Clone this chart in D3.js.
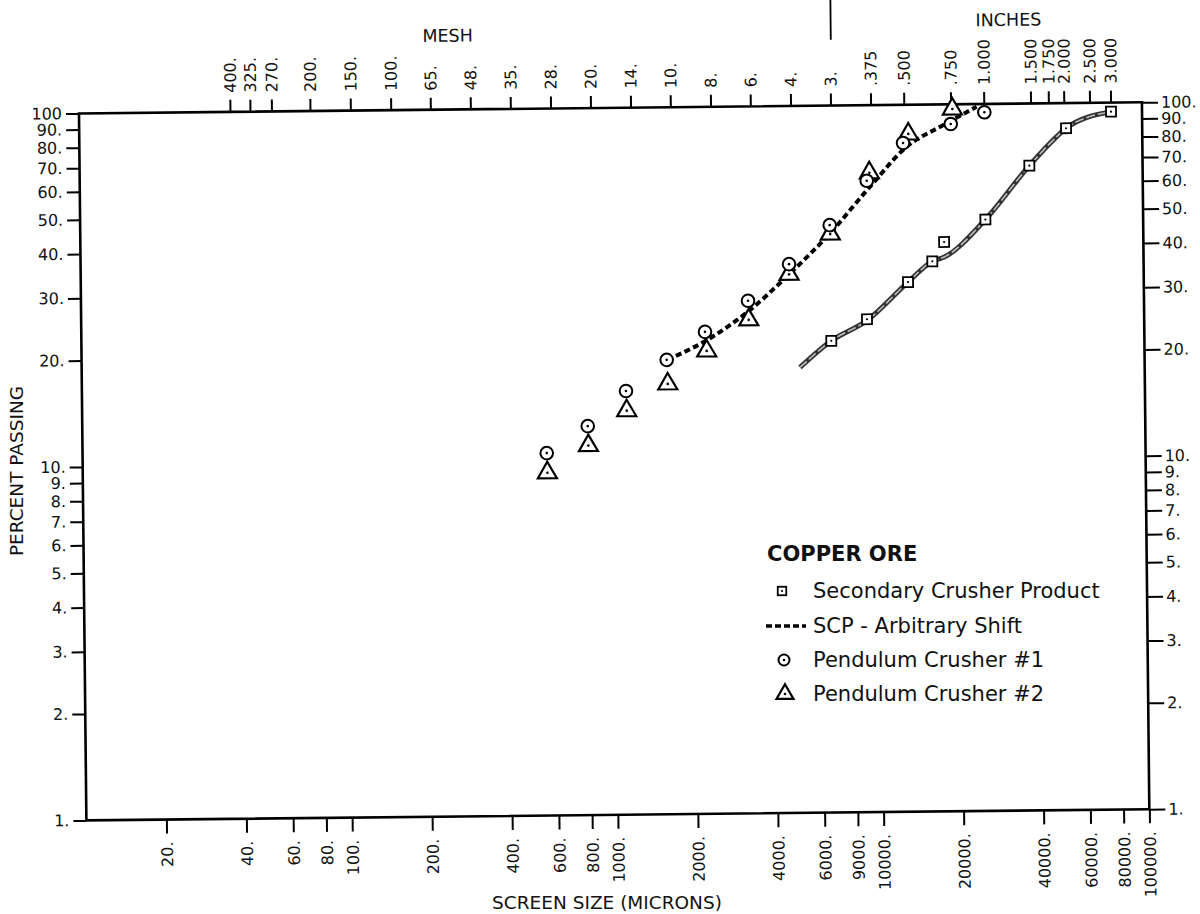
<!DOCTYPE html>
<html>
<head>
<meta charset="utf-8">
<script src="https://cdn.jsdelivr.net/npm/d3@7/dist/d3.min.js"></script>
<style>
    body { margin: 0; background: #fff; }
    svg { display: block; font-family: "DejaVu Sans", sans-serif; }
</style>
</head>
<body>
<svg id="chart" width="1200" height="914"></svg>
<script>

// screen size in microns, percent passing
var scpSize = [6635, 9057, 12967, 16032, 17791, 25494, 37487, 51700, 76450];
var scpPass = [21.6, 24.8, 31.5, 36.0, 40.8, 47.1, 66.7, 84.9, 94.3];

// drawn curve through the secondary crusher points
var scpCurveSize = [5047, 6635, 9057, 12967, 16032, 17791, 25494, 37487, 47643, 51700, 76450];
var scpCurvePass = [18.2, 21.6, 24.6, 31.5, 36.0, 37.0, 47.1, 66.7, 80.4, 84.9, 94.3];

// scp - arbitrary shift (dashed)
var shiftSize = [1600, 2355, 3236, 4668, 6625, 9410, 12980, 17857, 23884];
var shiftPass = [19.3, 22.3, 26.3, 33.6, 43.5, 58.8, 76.1, 87.4, 98.3];

var pend1Size = [558, 798, 1115, 1591, 2223, 3236, 4632, 6613, 9150, 12575, 19046, 25510];
var pend1Pass = [10.6, 12.6, 15.8, 19.3, 23.1, 28.2, 35.7, 45.9, 61.1, 78.0, 88.0, 94.7];

var pend2Size = [560, 801, 1120, 1602, 2252, 3250, 4628, 6637, 9365, 13176, 19337];
var pend2Pass = [9.33, 11.1, 13.9, 16.5, 20.4, 24.9, 33.4, 43.3, 64.4, 82.7, 97.0];

// axis ticks
var percentTicks = [1, 2, 3, 4, 5, 6, 7, 8, 9, 10, 20, 30, 40, 50, 60, 70, 80, 90, 100];
var percentLabelsLeft = ["1.", "2.", "3.", "4.", "5.", "6.", "7.", "8.", "9.", "10.", "20.", "30.", "40.", "50.", "60.", "70.", "80.", "90.", "100"];
var percentLabelsRight = ["1.", "2.", "3.", "4.", "5.", "6.", "7.", "8.", "9.", "10.", "20.", "30.", "40.", "50.", "60.", "70.", "80.", "90.", "100."];

var micronTicks = [20, 40, 60, 80, 100, 200, 400, 600, 800, 1000, 2000, 4000, 6000, 8000, 10000, 20000, 40000, 60000, 80000, 100000];
var micronLabels = ["20.", "40.", "60.", "80.", "100.", "200.", "400.", "600.", "800.", "1000.", "2000.", "4000.", "6000.", "9000.", "10000.", "20000.", "40000.", "60000.", "80000.", "100000."];

var meshMicrons = [37, 44, 53, 74, 105, 149, 210, 297, 420, 595, 841, 1190, 1680, 2380, 3360, 4760, 6730];
var meshLabels = ["400.", "325.", "270.", "200.", "150.", "100.", "65.", "48.", "35.", "28.", "20.", "14.", "10.", "8.", "6.", "4.", "3."];

var inchMicrons = [9525, 12700, 19050, 25400, 38100, 44450, 50800, 63500, 76200];
var inchLabels = [".375", ".500", ".750", "1.000", "1.500", "1.750", "2.000", "2.500", "3.000"];

var legendLabels = ["Secondary Crusher Product", "SCP - Arbitrary Shift", "Pendulum Crusher #1", "Pendulum Crusher #2"];

function zip(xs, ys) {
    return xs.map(function(v, i) { return {x: v, y: ys[i]}; });
}

var svg = d3.select("#chart");

var plot = {left: 82.65, right: 1145.65, top: 107.85, bottom: 814.85};

var x = d3.scaleLog().domain([10, 100000]).range([plot.left, plot.right]);
var y = d3.scaleLog().domain([1, 100]).range([plot.bottom, plot.top]);

// the scanned page is tilted a little
var g = svg.append("g")
    .attr("transform", "rotate(-0.6 614.15 461.35)");

// frame
g.append("rect")
    .attr("x", plot.left)
    .attr("y", plot.top)
    .attr("width", plot.right - plot.left)
    .attr("height", plot.bottom - plot.top)
    .attr("fill", "none")
    .attr("stroke", "#000")
    .attr("stroke-width", 2.6);

function styleAxis(sel, fontSize) {
    sel.select(".domain").remove();
    sel.selectAll(".tick line").attr("stroke", "#000").attr("stroke-width", 2);
    sel.selectAll(".tick text")
        .attr("fill", "#111")
        .style("font-size", fontSize + "px")
        .style("font-family", "'DejaVu Sans', sans-serif");
}

// left axis
var leftAxis = g.append("g")
    .attr("transform", "translate(" + plot.left + ",0)")
    .call(d3.axisLeft(y)
        .tickValues(percentTicks)
        .tickFormat(function(d, i) { return percentLabelsLeft[i]; })
        .tickSize(13)
        .tickPadding(4));
styleAxis(leftAxis, 16);

// right axis
var rightAxis = g.append("g")
    .attr("transform", "translate(" + plot.right + ",0)")
    .call(d3.axisRight(y)
        .tickValues(percentTicks)
        .tickFormat(function(d, i) { return percentLabelsRight[i]; })
        .tickSize(16)
        .tickPadding(3));
styleAxis(rightAxis, 16);

// bottom axis
var bottomAxis = g.append("g")
    .attr("transform", "translate(0," + plot.bottom + ")")
    .call(d3.axisBottom(x)
        .tickValues(micronTicks)
        .tickFormat(function(d, i) { return micronLabels[i]; })
        .tickSize(14));
styleAxis(bottomAxis, 16);
bottomAxis.selectAll(".tick text")
    .attr("transform", "rotate(-90)")
    .attr("text-anchor", "end")
    .attr("x", -22)
    .attr("y", 0)
    .attr("dy", "0.36em");

// top axis, mesh and inches
var topTicks = meshMicrons.concat(inchMicrons);
var topLabels = meshLabels.concat(inchLabels);
var topAxis = g.append("g")
    .attr("transform", "translate(0," + plot.top + ")")
    .call(d3.axisTop(x)
        .tickValues(topTicks)
        .tickFormat(function(d, i) { return topLabels[i]; })
        .tickSize(12));
styleAxis(topAxis, 16);
topAxis.selectAll(".tick text")
    .attr("transform", "rotate(-90)")
    .attr("text-anchor", "start")
    .attr("x", 19)
    .attr("y", 0)
    .attr("dy", "0.36em");

// divider between mesh and inches
var divX = x(6730) + 1;
g.append("line")
    .attr("x1", divX).attr("x2", divX)
    .attr("y1", -10).attr("y2", 42)
    .attr("stroke", "#000")
    .attr("stroke-width", 1.8);

g.append("text")
    .attr("x", 452).attr("y", 40)
    .attr("text-anchor", "middle")
    .style("font-size", "17.5px")
    .attr("fill", "#111")
    .text("MESH");

g.append("text")
    .attr("x", 1013).attr("y", 30)
    .attr("text-anchor", "middle")
    .style("font-size", "17.5px")
    .attr("fill", "#111")
    .text("INCHES");

var line = d3.line()
    .x(function(d) { return x(d.x); })
    .y(function(d) { return y(d.y); })
    .curve(d3.curveMonotoneX);

// secondary crusher curve: dark edges, light core
g.append("path")
    .datum(zip(scpCurveSize, scpCurvePass))
    .attr("d", line)
    .attr("fill", "none")
    .attr("stroke", "#333")
    .attr("stroke-width", 5);
g.append("path")
    .datum(zip(scpCurveSize, scpCurvePass))
    .attr("d", line)
    .attr("fill", "none")
    .attr("stroke", "#bbb")
    .attr("stroke-width", 1.6)
    .attr("stroke-dasharray", "9 3");

// arbitrary shift, dashed
g.append("path")
    .datum(zip(shiftSize, shiftPass))
    .attr("d", line)
    .attr("fill", "none")
    .attr("stroke", "#000")
    .attr("stroke-width", 4)
    .attr("stroke-dasharray", "6 3.5");

// markers
function drawSquare(sel, size) {
    sel.append("rect")
        .attr("x", -size / 2).attr("y", -size / 2)
        .attr("width", size).attr("height", size)
        .attr("fill", "#fff")
        .attr("stroke", "#000")
        .attr("stroke-width", 1.8);
    sel.append("circle").attr("r", 1.1).attr("fill", "#000");
}

function drawCircle(sel, r) {
    sel.append("circle")
        .attr("r", r)
        .attr("fill", "#fff")
        .attr("stroke", "#000")
        .attr("stroke-width", 2);
    sel.append("circle").attr("r", 1.3).attr("fill", "#000");
}

function drawTriangle(sel, side) {
    var h = side * Math.sqrt(3) / 2;
    sel.append("path")
        .attr("d", "M0," + (-2 * h / 3) + "L" + (side / 2) + "," + (h / 3) + "L" + (-side / 2) + "," + (h / 3) + "Z")
        .attr("fill", "#fff")
        .attr("stroke", "#000")
        .attr("stroke-width", 2.2)
        .attr("stroke-linejoin", "miter");
    sel.append("circle").attr("r", 1.3).attr("fill", "#000");
}

function pointGroups(data, cls) {
    return g.append("g")
        .selectAll("g." + cls)
        .data(data)
        .enter().append("g")
        .attr("class", cls)
        .attr("transform", function(d) { return "translate(" + x(d.x) + "," + y(d.y) + ")"; });
}

pointGroups(zip(scpSize, scpPass), "sq").call(drawSquare, 10);
pointGroups(zip(pend2Size, pend2Pass), "tri").call(drawTriangle, 19);
pointGroups(zip(pend1Size, pend1Pass), "circ").call(drawCircle, 6.3);

// axis titles
svg.append("text")
    .attr("transform", "translate(23,471) rotate(-90)")
    .attr("text-anchor", "middle")
    .style("font-size", "18.5px")
    .attr("fill", "#111")
    .text("PERCENT PASSING");

svg.append("text")
    .attr("x", 607).attr("y", 909)
    .attr("text-anchor", "middle")
    .style("font-size", "18.5px")
    .attr("fill", "#111")
    .text("SCREEN SIZE (MICRONS)");

// legend
var legend = svg.append("g");
legend.append("text")
    .attr("x", 767).attr("y", 561)
    .style("font-size", "21px")
    .style("font-weight", "bold")
    .attr("fill", "#111")
    .text("COPPER ORE");

var legendY = [591, 626, 660, 694];
legend.selectAll("text.item")
    .data(legendLabels)
    .enter().append("text")
    .attr("class", "item")
    .attr("x", 813)
    .attr("y", function(d, i) { return legendY[i] + 7; })
    .style("font-size", "21px")
    .attr("fill", "#111")
    .text(function(d) { return d; });

legend.append("g").attr("transform", "translate(782," + legendY[0] + ")").call(drawSquare, 8.5);
legend.append("line")
    .attr("x1", 766).attr("x2", 806)
    .attr("y1", legendY[1]).attr("y2", legendY[1])
    .attr("stroke", "#000")
    .attr("stroke-width", 3.5)
    .attr("stroke-dasharray", "6 3");
legend.append("g").attr("transform", "translate(784," + legendY[2] + ")").call(drawCircle, 5.5);
legend.append("g").attr("transform", "translate(785," + legendY[3] + ")").call(drawTriangle, 17);

</script>
</body>
</html>
